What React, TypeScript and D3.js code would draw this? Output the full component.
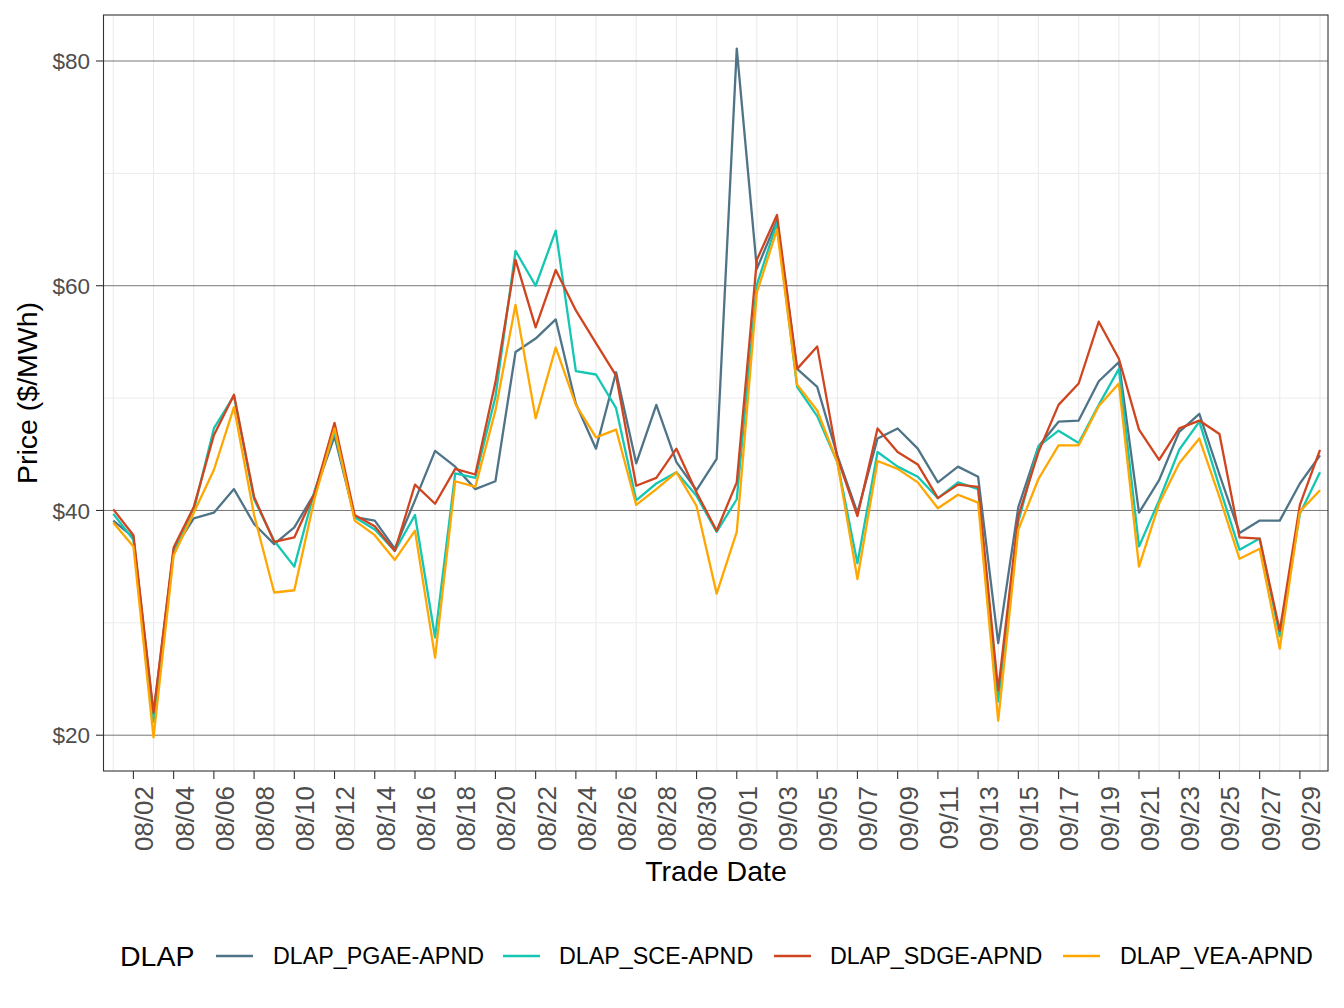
import React from "react";
import * as d3 from "d3";

const startDate = new Date(2023, 7, 1);
const dayCount = 61;

const seriesNames = ["DLAP_PGAE-APND", "DLAP_SCE-APND", "DLAP_SDGE-APND", "DLAP_VEA-APND"];
const seriesColors = ["#4F7488", "#14C7B3", "#CF4520", "#FFA600"];

const pgae = [39.1, 37.6, 21.8, 36.5, 39.3, 39.8, 41.9, 38.8, 37.0, 38.5, 41.5, 46.6, 39.4, 39.1, 36.6, 40.9, 45.3, 43.9, 41.9, 42.6, 54.1, 55.3, 57.0, 49.5, 45.5, 52.3, 44.2, 49.4, 44.3, 41.8, 44.6, 81.1, 61.5, 65.8, 52.6, 51.0, 44.9, 39.8, 46.4, 47.3, 45.5, 42.5, 43.9, 43.0, 28.2, 40.3, 45.7, 47.9, 48.0, 51.5, 53.2, 39.8, 42.7, 47.0, 48.6, 43.2, 38.0, 39.1, 39.1, 42.4, 44.9];
const sce = [39.7, 37.4, 21.2, 36.2, 40.0, 47.3, 50.2, 41.0, 37.3, 35.0, 41.7, 47.0, 39.4, 38.3, 36.4, 39.6, 28.7, 43.3, 42.9, 50.1, 63.1, 60.0, 64.9, 52.4, 52.1, 49.1, 40.9, 42.4, 43.4, 41.3, 38.1, 41.0, 60.1, 65.6, 51.0, 48.4, 44.3, 35.3, 45.2, 43.9, 43.0, 41.1, 42.5, 41.9, 23.0, 39.0, 45.7, 47.1, 46.0, 49.4, 52.6, 36.8, 40.9, 45.4, 47.9, 42.1, 36.5, 37.5, 28.8, 39.7, 43.4];
const sdge = [40.1, 37.8, 22.0, 36.7, 40.3, 46.7, 50.3, 41.2, 37.2, 37.6, 41.5, 47.8, 39.6, 38.6, 36.4, 42.3, 40.6, 43.7, 43.2, 51.4, 62.3, 56.3, 61.4, 57.8, 54.9, 52.0, 42.2, 42.9, 45.5, 41.6, 38.2, 42.5, 62.3, 66.3, 52.6, 54.6, 44.7, 39.5, 47.3, 45.2, 44.1, 41.1, 42.3, 42.1, 24.0, 39.5, 45.2, 49.4, 51.3, 56.8, 53.5, 47.2, 44.5, 47.3, 48.0, 46.8, 37.6, 37.5, 29.3, 40.5, 45.4];
const vea = [38.9, 36.8, 19.8, 36.0, 39.8, 43.6, 49.2, 39.6, 32.7, 32.9, 41.0, 47.3, 39.1, 37.8, 35.6, 38.2, 26.9, 42.6, 42.1, 48.9, 58.3, 48.2, 54.5, 49.4, 46.5, 47.2, 40.5, 41.9, 43.4, 40.4, 32.6, 38.1, 59.4, 65.0, 51.2, 48.9, 44.3, 33.9, 44.4, 43.7, 42.5, 40.2, 41.4, 40.7, 21.3, 38.3, 42.8, 45.8, 45.8, 49.3, 51.3, 35.0, 40.6, 44.2, 46.4, 41.2, 35.7, 36.6, 27.7, 39.9, 41.8];

const seriesValues = [pgae, sce, sdge, vea];
const yMajorTicks = [20, 40, 60, 80];
const yMinorTicks = [30, 50, 70];
const legendTitle = "DLAP";
const xTitle = "Trade Date";
const yTitle = "Price ($/MWh)";

const W = 1344;
const H = 1008;
const panel = { left: 103.5, right: 1328, top: 15, bottom: 771 };
const FONT = "'Liberation Sans', Arial, Helvetica, sans-serif";

export default function App() {
  const dates = d3.range(dayCount).map((i) => d3.timeDay.offset(startDate, i));
  const x = d3
    .scaleTime()
    .domain([dates[0], dates[dayCount - 1]])
    .range([113.3, 1320]);
  const y = d3.scaleLinear().domain([20, 80]).range([735.2, 61]);

  const line = d3
    .line<number>()
    .x((_, i) => x(dates[i]))
    .y((v) => y(v));

  const minorX = dates.filter((_, i) => i % 2 === 0);
  const tickX = dates.filter((_, i) => i % 2 === 1);
  const fmt = d3.timeFormat("%m/%d");

  const legendKeys = [
    { keyX: 216, labelX: 273 },
    { keyX: 503, labelX: 559 },
    { keyX: 774, labelX: 830 },
    { keyX: 1063, labelX: 1120 },
  ];
  const legendY = 956;

  return (
    <svg
      width={W}
      height={H}
      style={{ position: "absolute", left: 0, top: 0, background: "#fff" }}
      fontFamily={FONT}
    >
      <rect x={0} y={0} width={W} height={H} fill="#fff" />
      {yMinorTicks.map((t) => (
        <line key={"hm" + t} x1={panel.left} x2={panel.right} y1={y(t)} y2={y(t)} stroke="#EBEBEB" strokeWidth={1} />
      ))}
      {minorX.map((d, i) => (
        <line key={"vm" + i} x1={x(d)} x2={x(d)} y1={panel.top} y2={panel.bottom} stroke="#EBEBEB" strokeWidth={1.1} />
      ))}
      {yMajorTicks.map((t) => (
        <line key={"hM" + t} x1={panel.left} x2={panel.right} y1={y(t)} y2={y(t)} stroke="#666" strokeWidth={0.9} />
      ))}
      {seriesValues.map((vals, si) => (
        <path
          key={seriesNames[si]}
          d={line(vals) || ""}
          fill="none"
          stroke={seriesColors[si]}
          strokeWidth={2.3}
          strokeLinejoin="round"
        />
      ))}
      <rect
        x={panel.left}
        y={panel.top}
        width={panel.right - panel.left}
        height={panel.bottom - panel.top}
        fill="none"
        stroke="#333"
        strokeWidth={1.1}
      />
      {yMajorTicks.map((t) => (
        <g key={"yt" + t}>
          <line x1={96} x2={panel.left} y1={y(t)} y2={y(t)} stroke="#333" strokeWidth={1.1} />
          <text x={90} y={y(t)} dy="0.36em" textAnchor="end" fontSize={22.5} fill="#4D4D4D">
            {d3.format("$")(t)}
          </text>
        </g>
      ))}
      {tickX.map((d, i) => (
        <g key={"xt" + i}>
          <line x1={x(d)} x2={x(d)} y1={panel.bottom} y2={panel.bottom + 8} stroke="#333" strokeWidth={1.1} />
          <text
            transform={`translate(${x(d) + 10.5},${786}) rotate(-90)`}
            dy="0.36em"
            textAnchor="end"
            fontSize={26}
            fill="#4D4D4D"
          >
            {fmt(d)}
          </text>
        </g>
      ))}
      <text x={716} y={881} textAnchor="middle" fontSize={28.5} fill="#000">
        {xTitle}
      </text>
      <text transform={`translate(37,${(panel.top + panel.bottom) / 2}) rotate(-90)`} textAnchor="middle" fontSize={28.5} fill="#000">
        {yTitle}
      </text>
      <text x={120} y={legendY + 10} fontSize={28.5} fill="#000">
        {legendTitle}
      </text>
      {seriesNames.map((name, si) => (
        <g key={"lg" + si}>
          <line
            x1={legendKeys[si].keyX}
            x2={legendKeys[si].keyX + 37}
            y1={legendY}
            y2={legendY}
            stroke={seriesColors[si]}
            strokeWidth={2.3}
          />
          <text x={legendKeys[si].labelX} y={legendY} dy="0.36em" fontSize={23.3} fill="#000">
            {name}
          </text>
        </g>
      ))}
    </svg>
  );
}
